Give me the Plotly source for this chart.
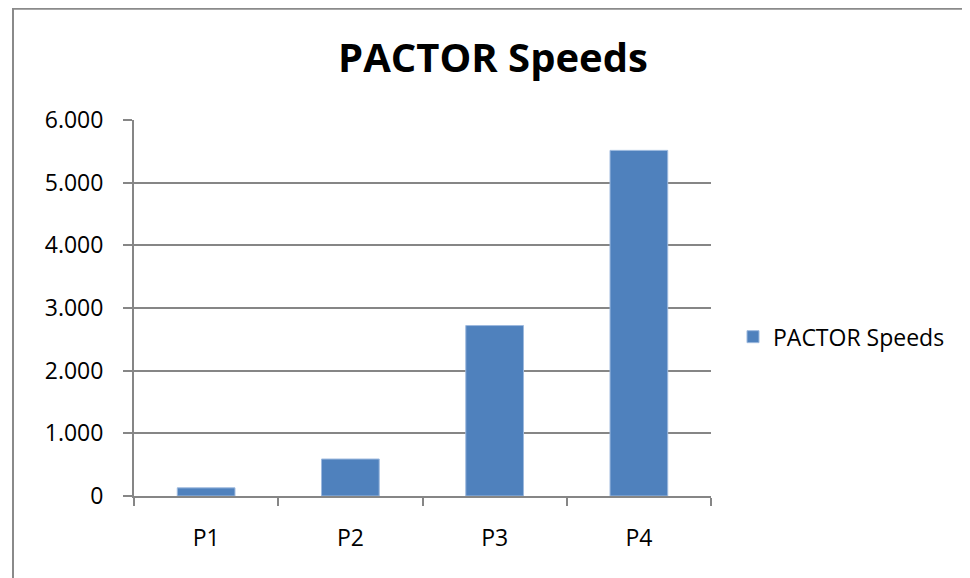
import plotly.graph_objects as go

categories = ["P1", "P2", "P3", "P4"]
speeds = [130, 590, 2720, 5515]
series_name = "PACTOR Speeds"
y_tickvals = [0, 1000, 2000, 3000, 4000, 5000, 6000]
y_ticktext = ["0", "1.000", "2.000", "3.000", "4.000", "5.000", "6.000"]

# page body has an 8px margin, so figure coords = screen coords - 8
W, H = 962, 570
L, T = 126, 112
R = W - 703
B = H - 488.5
pw, ph = W - L - R, H - T - B

def px_x(x):
    return (x - L) / pw

def px_y(y):
    return (H - B - y) / ph

FONT = "Open Sans"
GRID = "#868686"

fig = go.Figure()
fig.add_trace(go.Bar(
    x=categories, y=speeds, name=series_name,
    marker=dict(color="#4F81BD", line=dict(color="#9DB9DE", width=1)),
    width=0.4, showlegend=True,
))

fig.update_layout(
    width=W, height=H,
    margin=dict(l=L, r=R, t=T, b=B, autoexpand=False),
    paper_bgcolor="white", plot_bgcolor="white",
    font=dict(family=FONT, color="black", size=23),
    title=dict(text="<b>PACTOR Speeds</b>", font=dict(family=FONT, size=40, color="black"),
               x=485 / W, xanchor="center", xref="container",
               y=1 - 50 / H, yanchor="middle", yref="container"),
    showlegend=True,
    legend=dict(x=px_x(725), y=px_y(329), xanchor="left", yanchor="middle",
                font=dict(family=FONT, size=23, color="black"),
                bgcolor="rgba(0,0,0,0)", itemwidth=30),
    xaxis=dict(type="category", showline=True, linecolor=GRID, linewidth=2,
               ticks="outside", tickson="boundaries", ticklen=8, tickcolor=GRID, tickwidth=2,
               showgrid=False, ticklabelstandoff=20, tickfont=dict(size=23)),
    yaxis=dict(range=[0, 6000], tickvals=y_tickvals, ticktext=y_ticktext,
               showline=True, linecolor=GRID, linewidth=2,
               ticks="outside", ticklen=9, tickcolor=GRID, tickwidth=2,
               showgrid=True, gridcolor=GRID, gridwidth=2, zeroline=False,
               ticklabelstandoff=15, tickfont=dict(size=23)),
    shapes=[dict(type="rect", xref="paper", yref="paper",
                 x0=px_x(5), x1=px_x(990), y0=px_y(600), y1=px_y(0.5),
                 line=dict(color="#8a8a8a", width=2), fillcolor="rgba(0,0,0,0)", layer="above")],
)

fig.write_html("out.html")
